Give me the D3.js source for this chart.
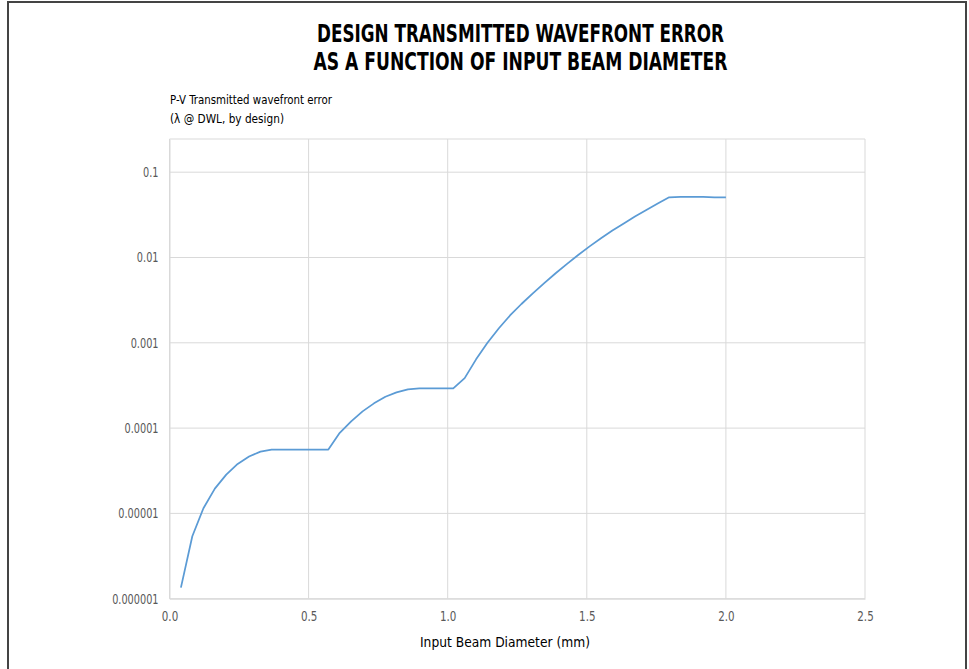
<!DOCTYPE html>
<html>
<head>
<meta charset="utf-8">
<script src="https://cdn.jsdelivr.net/npm/d3@7"></script>
<style>
  body { margin: 0; background: #fff; }
  text { font-family: "Liberation Sans Narrow", "DejaVu Sans Condensed", "Roboto Condensed", sans-serif; font-stretch: condensed; }
</style>
</head>
<body>
<div id="chart"></div>
<script>
// beam diameter (mm)
const diameter = [0.041, 0.082, 0.122, 0.163, 0.204, 0.245, 0.286, 0.327, 0.367, 0.408,
  0.449, 0.490, 0.531, 0.571, 0.612, 0.653, 0.694, 0.735, 0.776, 0.816,
  0.857, 0.898, 0.939, 0.980, 1.020, 1.061, 1.102, 1.143, 1.184, 1.224,
  1.265, 1.306, 1.347, 1.388, 1.429, 1.469, 1.510, 1.551, 1.592, 1.633,
  1.673, 1.714, 1.755, 1.796, 1.837, 1.878, 1.918, 1.959, 2.000];

// P-V transmitted wavefront error (waves)
const wfe = [1.35e-6, 5.4e-6, 1.15e-5, 1.95e-5, 2.85e-5, 3.8e-5, 4.65e-5, 5.3e-5, 5.6e-5, 5.6e-5,
  5.6e-5, 5.6e-5, 5.6e-5, 5.6e-5, 8.8e-5, 1.2e-4, 1.57e-4, 1.95e-4, 2.33e-4, 2.62e-4,
  2.85e-4, 2.92e-4, 2.92e-4, 2.92e-4, 2.92e-4, 3.85e-4, 6.4e-4, 1.0e-3, 1.48e-3, 2.09e-3,
  2.85e-3, 3.8e-3, 5.0e-3, 6.53e-3, 8.41e-3, 1.07e-2, 1.35e-2, 1.68e-2, 2.07e-2, 2.51e-2,
  3.02e-2, 3.6e-2, 4.29e-2, 5.08e-2, 5.15e-2, 5.15e-2, 5.15e-2, 5.08e-2, 5.08e-2];

const xTicks = [0, 0.5, 1.0, 1.5, 2.0, 2.5];
const yTicks = [0.000001, 0.00001, 0.0001, 0.001, 0.01, 0.1];
const yTickLabels = ["0.000001", "0.00001", "0.0001", "0.001", "0.01", "0.1"];

const width = 969, height = 669;
const margin = { top: 139, right: 104, bottom: 70, left: 169.5 };
const chartW = width - margin.left - margin.right;
const chartH = height - margin.top - margin.bottom - 0.3;

const svg = d3.select("#chart").append("svg")
    .attr("width", width)
    .attr("height", height);

// squeeze text so it looks like the narrow font of the original
function condense(sel, k) {
    sel.each(function() {
        const len = this.getComputedTextLength();
        d3.select(this)
            .attr("textLength", len * k)
            .attr("lengthAdjust", "spacingAndGlyphs");
    });
}

// outer frame
svg.append("rect")
    .attr("x", 8).attr("y", 2)
    .attr("width", 958).attr("height", 700)
    .attr("fill", "none")
    .attr("stroke", "#444")
    .attr("stroke-width", 2);

// title
const titleLines = ["DESIGN TRANSMITTED WAVEFRONT ERROR", "AS A FUNCTION OF INPUT BEAM DIAMETER"];
const titleLen = [407, 414];
svg.selectAll(".title")
    .data(titleLines)
    .join("text")
    .attr("class", "title")
    .attr("x", 520.5)
    .attr("y", (d, i) => 42 + i * 28)
    .attr("text-anchor", "middle")
    .attr("font-size", 24)
    .attr("font-weight", "bold")
    .attr("fill", "#000")
    .attr("textLength", (d, i) => titleLen[i])
    .attr("lengthAdjust", "spacingAndGlyphs")
    .text(d => d);

// y label
const yLabelLines = ["P-V Transmitted wavefront error", "(\u03bb @ DWL, by design)"];
const yLabelLen = [162, 114];
svg.selectAll(".ylabel")
    .data(yLabelLines)
    .join("text")
    .attr("class", "ylabel")
    .attr("x", 170)
    .attr("y", (d, i) => 104 + i * 19)
    .attr("font-size", 13)
    .attr("fill", "#000")
    .attr("textLength", (d, i) => yLabelLen[i])
    .attr("lengthAdjust", "spacingAndGlyphs")
    .text(d => d);

const g = svg.append("g")
    .attr("transform", "translate(" + margin.left + "," + margin.top + ")");

const x = d3.scaleLinear().domain([0, 2.5]).range([0, chartW]);
const y = d3.scaleLog().domain([1e-6, 0.245]).range([chartH, 0]);

// grid
g.append("g")
    .selectAll("line")
    .data(xTicks)
    .join("line")
    .attr("x1", d => x(d)).attr("x2", d => x(d))
    .attr("y1", 0).attr("y2", chartH)
    .attr("stroke", "#d9d9d9");

g.append("g")
    .selectAll("line")
    .data(yTicks)
    .join("line")
    .attr("x1", 0).attr("x2", chartW)
    .attr("y1", d => y(d)).attr("y2", d => y(d))
    .attr("stroke", "#d9d9d9");

g.append("line")
    .attr("x1", 0).attr("x2", chartW)
    .attr("y1", 0).attr("y2", 0)
    .attr("stroke", "#d9d9d9");

// axes
const xAxis = d3.axisBottom(x)
    .tickValues(xTicks)
    .tickSize(0)
    .tickPadding(13)
    .tickFormat(d3.format(".1f"));

const xAxisG = g.append("g")
    .attr("transform", "translate(0," + chartH + ")")
    .attr("font-family", null)
    .call(xAxis);
xAxisG.select(".domain").attr("stroke", "#d9d9d9");
xAxisG.selectAll("text")
    .attr("font-size", 13.5)
    .attr("fill", "#595959")
    .call(condense, 0.85);

const yAxis = d3.axisLeft(y)
    .tickValues(yTicks)
    .tickSize(0)
    .tickPadding(11)
    .tickFormat((d, i) => yTickLabels[i]);

const yAxisG = g.append("g")
    .attr("font-family", null)
    .call(yAxis);
yAxisG.select(".domain").attr("stroke", "#d9d9d9");
yAxisG.selectAll("text")
    .attr("font-size", 13.5)
    .attr("fill", "#595959")
    .call(condense, 0.8);
xAxisG.attr("font-family", null);
yAxisG.attr("font-family", null);

// x label
svg.append("text")
    .attr("x", 505)
    .attr("y", 647)
    .attr("text-anchor", "middle")
    .attr("font-size", 14)
    .attr("fill", "#000")
    .attr("textLength", 170)
    .attr("lengthAdjust", "spacingAndGlyphs")
    .text("Input Beam Diameter (mm)");

// series
const data = diameter.map((d, i) => ({ x: d, y: wfe[i] }));
const line = d3.line()
    .x(d => x(d.x))
    .y(d => y(d.y));

g.append("path")
    .datum(data)
    .attr("fill", "none")
    .attr("stroke", "#5b9bd5")
    .attr("stroke-width", 1.75)
    .attr("stroke-linejoin", "round")
    .attr("d", line);
</script>
</body>
</html>
